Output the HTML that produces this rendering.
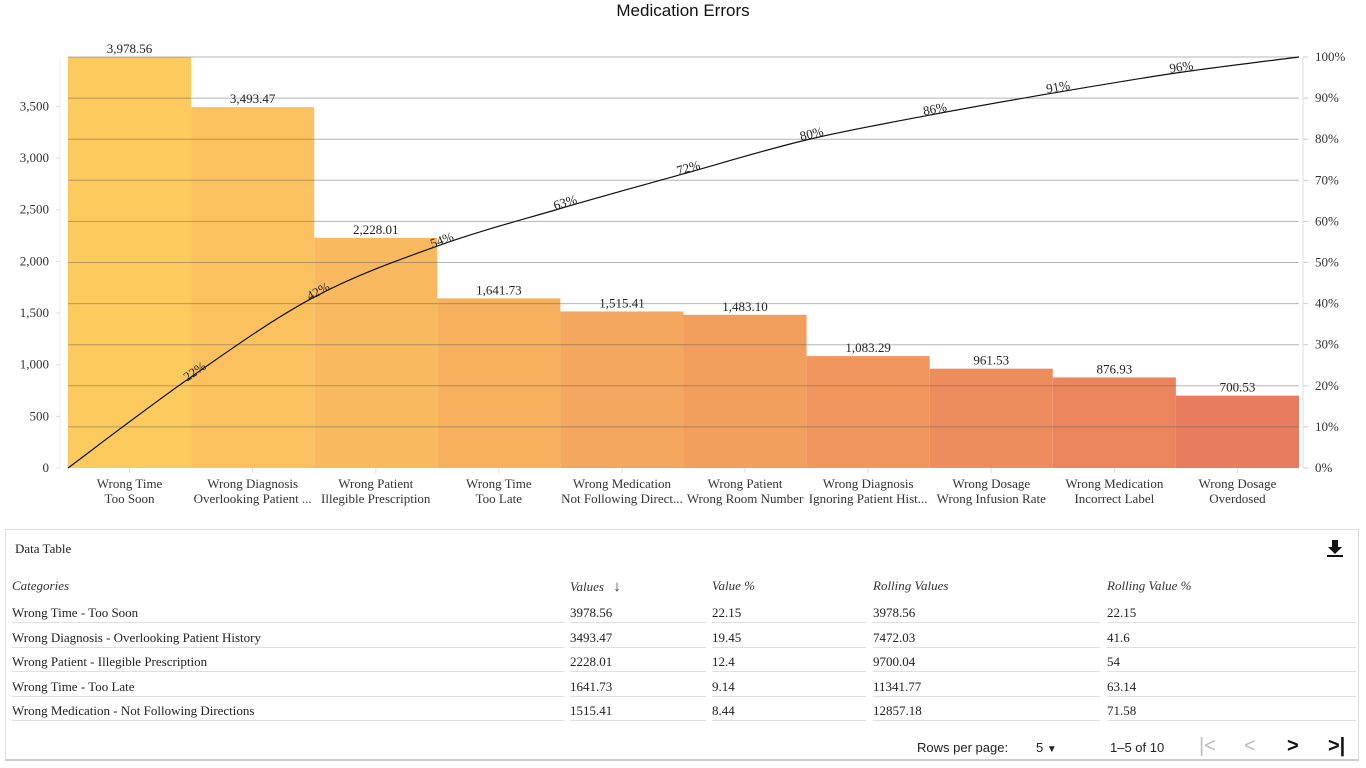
<!DOCTYPE html>
<html><head><meta charset="utf-8"><style>
body{margin:0;background:#fff;width:1366px;height:768px;overflow:hidden;font-family:"Liberation Serif",serif;}
#title{position:absolute;top:0;left:0;width:1366px;text-align:center;font-family:"Liberation Sans",sans-serif;font-size:17px;line-height:22px;color:#111;}
#tbl{position:absolute;left:5px;top:529px;width:1354px;height:232px;border:1px solid #ddd;border-bottom:2px solid #ccc;box-sizing:border-box;}
.t{position:absolute;font-size:13px;color:#222;white-space:nowrap}
.h{font-style:italic;color:#333}
.ln{position:absolute;height:1px;background:#e0e0e0}
.pg{position:absolute;font-family:"Liberation Sans",sans-serif;font-size:13px;color:#222}
</style></head><body>
<div id="title">Medication Errors</div>
<svg id="chart" width="1366" height="520" style="position:absolute;left:0;top:0"></svg>
<div id="tbl">
  <div class="t" style="left:9px;top:11px">Data Table</div>
  <svg style="position:absolute;left:1318px;top:7px" width="22" height="22"><path d="M8 3h6v7h4l-7 7-7-7h4z" fill="#111"/><rect x="3" y="18" width="16" height="2" fill="#111"/></svg>
</div>
<div id="rows"></div>
<div class="pg" style="left:917px;top:740px">Rows per page:</div>
<div class="pg" style="left:1036px;top:740px">5 <span style="font-size:10px">▼</span></div>
<div class="pg" style="left:1110px;top:740px">1–5 of 10</div>
<div class="pg" style="left:1199px;top:735px;font-size:20px;color:#bbb">|&lt;</div>
<div class="pg" style="left:1244px;top:735px;font-size:20px;color:#bbb">&lt;</div>
<div class="pg" style="left:1287px;top:735px;font-size:20px;color:#111;font-weight:bold">&gt;</div>
<div class="pg" style="left:1328px;top:735px;font-size:20px;color:#111;font-weight:bold">&gt;|</div>
<script>
const categories=["Wrong Time|Too Soon","Wrong Diagnosis|Overlooking Patient ...","Wrong Patient|Illegible Prescription","Wrong Time|Too Late","Wrong Medication|Not Following Direct...","Wrong Patient|Wrong Room Number","Wrong Diagnosis|Ignoring Patient Hist...","Wrong Dosage|Wrong Infusion Rate","Wrong Medication|Incorrect Label","Wrong Dosage|Overdosed"];
const values=[3978.56,3493.47,2228.01,1641.73,1515.41,1483.10,1083.29,961.53,876.93,700.53];
const leftTicks=[0,500,1000,1500,2000,2500,3000,3500];
const rightTicks=[0,10,20,30,40,50,60,70,80,90,100];
const tableCats=["Wrong Time - Too Soon","Wrong Diagnosis - Overlooking Patient History","Wrong Patient - Illegible Prescription","Wrong Time - Too Late","Wrong Medication - Not Following Directions"];

const NS="http://www.w3.org/2000/svg",svg=document.getElementById('chart');
const X0=68,X1=1299,Y0=468,Y1=57;
const total=values.reduce((a,b)=>a+b,0);
const maxV=Math.max(...values);
const y=v=>Y0-(v/maxV)*(Y0-Y1);
const yp=p=>Y0-(p/100)*(Y0-Y1);
const bw=(X1-X0)/values.length;
const x=i=>X0+i*bw;
function el(t,a,p){const e=document.createElementNS(NS,t);for(const k in a)e.setAttribute(k,a[k]);(p||svg).appendChild(e);return e;}
const c0=[253,202,94],c1=[233,124,94];
values.forEach((v,i)=>{
  const f=i/(values.length-1);
  const c=c0.map((a,j)=>Math.round(a+(c1[j]-a)*f));
  const r=el('rect',{x:x(i),y:y(v),width:bw,height:Y0-y(v),fill:`rgb(${c})`});
  
  
  const t=el('text',{x:x(i)+bw/2,y:y(v)-4,'text-anchor':'middle','font-size':13,fill:'#222','font-family':'Liberation Serif'});
  t.textContent=v.toLocaleString('en-US',{minimumFractionDigits:2,maximumFractionDigits:2});
  
  
  const parts=categories[i].split('|');
  parts.forEach((p,k)=>{
    const l=el('text',{x:x(i)+bw/2,y:488+k*15,'text-anchor':'middle','font-size':13,fill:'#333','font-family':'Liberation Serif'});
    l.textContent=p;
    
    
  });
  el('line',{x1:x(i)+bw/2,x2:x(i)+bw/2,y1:Y0,y2:Y0+5,stroke:'#ddd'});
});
rightTicks.forEach(p=>{
  if(p>0){const g=el('line',{x1:X0,x2:X1,y1:yp(p),y2:yp(p),stroke:'rgba(90,90,90,0.45)','stroke-width':1});
  }
  el('line',{x1:X1+4,x2:X1+9,y1:yp(p),y2:yp(p),stroke:'#ccc'});
  const t=el('text',{x:X1+16,y:yp(p)+4,'font-size':13,fill:'#333','font-family':'Liberation Serif'});
  t.textContent=p+'%';
  
  
});
el('line',{x1:X1+4,x2:X1+4,y1:Y1,y2:Y0,stroke:'#ddd'});
el('line',{x1:X0-8,x2:X0-8,y1:Y1,y2:Y0,stroke:'#eee'});
leftTicks.forEach(v=>{
  el('line',{x1:X0-12,x2:X0-8,y1:y(v),y2:y(v),stroke:'#ddd'});
  const t=el('text',{x:X0-19,y:y(v)+4,'text-anchor':'end','font-size':13,fill:'#333','font-family':'Liberation Serif'});
  t.textContent=v.toLocaleString('en-US');
  
  
});
// cumulative line
let cum=0;const pts=[[X0,Y0]];const pcts=[];
values.forEach((v,i)=>{cum+=v;const p=cum/total*100;pcts.push(p);pts.push([x(i+1),yp(p)]);});
let d=`M${pts[0][0]},${pts[0][1]}`;
for(let i=0;i<pts.length-1;i++){
  const p0=pts[Math.max(0,i-1)],p1=pts[i],p2=pts[i+1],p3=pts[Math.min(pts.length-1,i+2)];
  d+=` C${p1[0]+(p2[0]-p0[0])/6},${p1[1]+(p2[1]-p0[1])/6} ${p2[0]-(p3[0]-p1[0])/6},${p2[1]-(p3[1]-p1[1])/6} ${p2[0]},${p2[1]}`;
}
const line=el('path',{d:d,fill:'none',stroke:'#111','stroke-width':1.2});


pcts.forEach((p,i)=>{
  if(i===pcts.length-1)return;
  const a=pts[i],b=pts[i+2]||pts[i+1];
  const ang=Math.atan2(b[1]-a[1],b[0]-a[0])*180/Math.PI;
  const px=pts[i+1][0],py=pts[i+1][1];
  const t=el('text',{x:px+6,y:py-2,'text-anchor':'middle','font-size':13,fill:'#222','font-family':'Liberation Serif',transform:`rotate(${ang} ${px+6} ${py-2})`});
  t.textContent=Math.round(p)+'%';
  
  
});
// table
const rows=document.getElementById('rows');
const cols=[12,570,712,873,1107],colEnd=[565,706,866,1100,1356];
function div(cls,l,t,txt,name){const e=document.createElement('div');e.className=cls;e.style.left=l+'px';e.style.top=t+'px';e.textContent=txt;


rows.appendChild(e);return e;}
["Categories","Values","Value %","Rolling Values","Rolling Value %"].forEach((h,j)=>{
  const e=div('t h',cols[j],578,h,'column-header');
  if(j===1){e.innerHTML='Values <span style="font-style:normal;font-family:Liberation Sans;font-size:15px;margin-left:6px">↓</span>';}
});
let rc=0;
tableCats.forEach((c,i)=>{
  const v=values[i];rc+=v;
  const cells=[c,v.toFixed(2),+(v/total*100).toFixed(2)+'',rc.toFixed(2),+(rc/total*100).toFixed(2)+''];
  const top=605+i*24.5;
  cells.forEach((txt,j)=>{
    div('t',cols[j],top,txt,'table-cell');
    const l=document.createElement('div');l.className='ln';l.style.left=cols[j]+'px';l.style.width=(colEnd[j]-cols[j])+'px';l.style.top=(top+17)+'px';rows.appendChild(l);
  });
});
</script>
</body></html>
